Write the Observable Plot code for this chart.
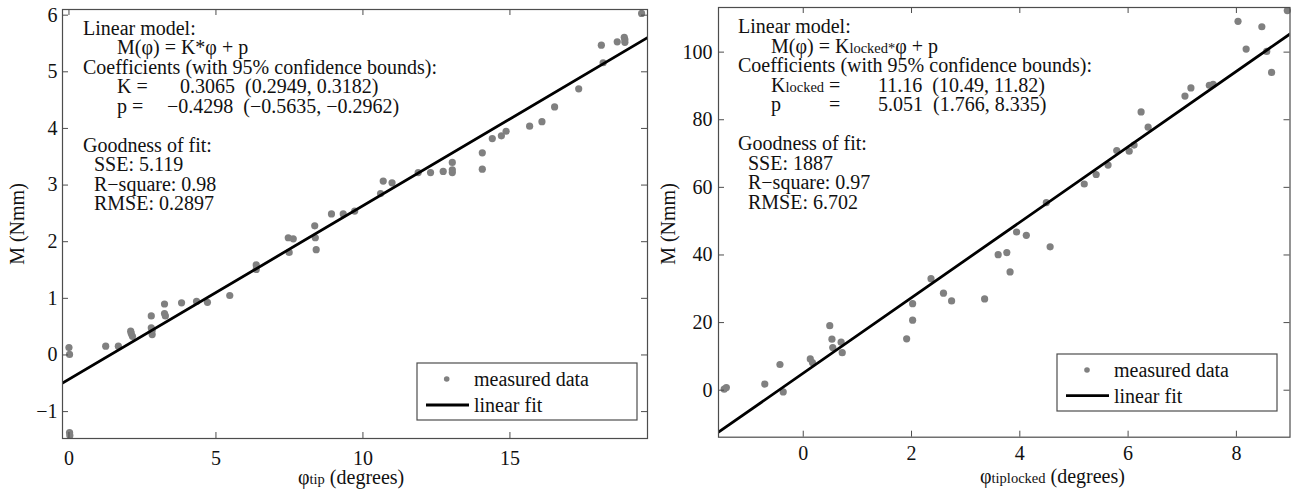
<!DOCTYPE html>
<html>
<head>
<meta charset="utf-8">
<script src="https://cdn.jsdelivr.net/npm/d3@7"></script>
<script src="https://cdn.jsdelivr.net/npm/@observablehq/plot@0.6"></script>
<style>
  body { margin: 0; background: #fff; }
  #wrap { display: flex; width: 1291px; height: 489px; overflow: hidden; }
  #wrap svg { display: block; flex: none; }
  #wrap svg text { font-family: "Liberation Serif", "Times New Roman", serif; }
</style>
</head>
<body>
<div id="wrap"></div>
<script>
// ---------- Left panel: φtip ----------
const tipPhi = [0, 0.02, 0.02, 0.03, 1.25, 1.68, 2.10, 2.12, 2.16, 2.80, 2.80, 2.83, 2.83,
  3.25, 3.25, 3.28, 3.83, 4.34, 4.71, 5.47, 6.37, 6.37, 7.46, 7.63, 7.49, 8.38, 8.41, 8.36,
  8.93, 9.33, 9.72, 10.60, 10.69, 10.99, 11.88, 12.30, 12.73, 13.04, 13.04, 13.04, 14.06,
  14.06, 14.40, 14.71, 14.87, 15.67, 16.09, 16.52, 17.34, 18.11, 18.17, 18.65, 18.89, 18.91,
  18.91, 19.48];
const tipM = [0.13, 0.01, -1.37, -1.42, 0.155, 0.155, 0.42, 0.38, 0.33, 0.69, 0.48, 0.43, 0.36,
  0.90, 0.73, 0.69, 0.92, 0.945, 0.93, 1.05, 1.59, 1.51, 2.07, 2.05, 1.81, 2.07, 1.86, 2.28,
  2.49, 2.49, 2.54, 2.85, 3.07, 3.04, 3.22, 3.22, 3.24, 3.40, 3.27, 3.22, 3.57,
  3.28, 3.82, 3.87, 3.95, 4.04, 4.12, 4.38, 4.70, 5.47, 5.16, 5.53, 5.61, 5.52,
  5.57, 6.03];
const tipK = 0.3065, tipP = -0.4298;
const tipXDomain = [-0.22, 19.68];
const tipYDomain = [-1.475, 6.1];
const tipXTicks = [0, 5, 10, 15];
const tipYTicks = [-1, 0, 1, 2, 3, 4, 5, 6];

// ---------- Right panel: φtiplocked ----------
const lockedPhi = [-1.46, -1.42, -0.71, -0.43, -0.37, 0.13, 0.17, 0.49, 0.53, 0.545, 0.70, 0.72,
  1.91, 2.02, 2.02, 2.36, 2.59, 2.74, 3.35, 3.60, 3.76, 3.82, 3.94, 4.12, 4.56, 4.49, 5.19,
  5.41, 5.63, 5.79, 6.02, 6.11, 6.24, 6.37, 7.05, 7.16, 7.50, 7.57, 8.03, 8.18, 8.47, 8.56,
  8.65, 8.94];
const lockedM = [0.3, 0.8, 1.8, 7.6, -0.5, 9.25, 8.2, 19.1, 15.1, 12.6, 14.2, 11.1,
  15.2, 20.7, 25.6, 33.0, 28.7, 26.4, 27.0, 40.1, 40.7, 35.0, 46.8, 45.8, 42.4, 55.5, 61.0,
  63.8, 66.6, 70.9, 70.7, 72.5, 82.3, 77.8, 87.0, 89.4, 90.2, 90.5, 109.1, 100.9, 107.5, 100.2,
  94.0, 112.3];
const lockedK = 11.16, lockedP = 5.051;
const lockedXDomain = [-1.565, 8.99];
const lockedYDomain = [-13.9, 113.2];
const lockedXTicks = [0, 2, 4, 6, 8];
const lockedYTicks = [0, 20, 40, 60, 80, 100];

const FS = 20;
const wrap = document.getElementById("wrap");

function panel(cfg) {
  const pts = cfg.phi.map((x, i) => ({x, y: cfg.M[i]}));
  const fit = cfg.xDomain.map(x => ({x, y: cfg.K * x + cfg.P}));
  const innerW = cfg.width - cfg.ml - cfg.mr;
  const innerH = cfg.height - cfg.mt - cfg.mb;
  const frameColor = "#4d4d4d";
  const chart = Plot.plot({
    width: cfg.width, height: cfg.height,
    marginLeft: cfg.ml, marginRight: cfg.mr, marginTop: cfg.mt, marginBottom: cfg.mb,
    style: {fontSize: FS + "px", fontFamily: '"Liberation Serif", serif', color: "#111", background: "#fff"},
    x: {domain: cfg.xDomain},
    y: {domain: cfg.yDomain},
    marks: [
      Plot.dot(pts, {x: "x", y: "y", r: 3.6, fill: "#808080", stroke: "none"}),
      Plot.line(fit, {x: "x", y: "y", stroke: "#000", strokeWidth: 2.8, clip: true}),
      Plot.ruleX(cfg.xTicks, {x: d => d, insetTop: innerH - 6, stroke: frameColor}),
      Plot.ruleX(cfg.xTicks, {x: d => d, insetBottom: innerH - 6, stroke: frameColor}),
      Plot.ruleY(cfg.yTicks, {y: d => d, insetRight: innerW - 6, stroke: frameColor}),
      Plot.ruleY(cfg.yTicks, {y: d => d, insetLeft: innerW - 6, stroke: frameColor}),
      Plot.frame({stroke: frameColor, strokeWidth: 1.2}),
      Plot.axisX(cfg.xTicks, {tickSize: 0, tickPadding: cfg.xPad, label: null, tickFormat: d => String(d).replace("-", "−"), fill: "#111"}),
      Plot.axisY(cfg.yTicks, {tickSize: 0, tickPadding: cfg.yPad, label: null, tickFormat: d => String(d).replace("-", "−"), fill: "#111"})
    ]
  });
  wrap.appendChild(chart);
  const svg = d3.select(chart);
  const g = svg.append("g").attr("fill", "#111").attr("text-anchor", "start")
    .style("font-size", FS + "px").style("white-space", "pre");
  return {svg, g};
}

function txt(g, x, y, parts, attrs = {}) {
  const t = g.append("text").attr("x", x).attr("y", y).attr("xml:space", "preserve").attr("text-anchor", "start");
  for (const [k, v] of Object.entries(attrs)) t.attr(k, v);
  for (const p of parts) {
    if (typeof p === "string") t.append("tspan").text(p);
    else t.append("tspan").style("font-size", p.size + "px").text(p.t);
  }
  return t;
}

function legend(g, x0, y0, w, h, dotX, dotY, lineX1, lineX2, lineY, textX) {
  g.append("rect").attr("x", x0).attr("y", y0).attr("width", w).attr("height", h)
    .attr("fill", "#fff").attr("stroke", "#4d4d4d").attr("stroke-width", 1.2);
  g.append("circle").attr("cx", dotX).attr("cy", dotY).attr("r", 2.8).attr("fill", "#808080");
  g.append("line").attr("x1", lineX1).attr("x2", lineX2).attr("y1", lineY).attr("y2", lineY)
    .attr("stroke", "#000").attr("stroke-width", 2.8);
  txt(g, textX, dotY + 7, ["measured data"]);
  txt(g, textX, lineY + 7, ["linear fit"]);
}

// ----- Left -----
{
  const {svg, g} = panel({phi: tipPhi, M: tipM, K: tipK, P: tipP, xDomain: tipXDomain, yDomain: tipYDomain,
    xTicks: tipXTicks, yTicks: tipYTicks, width: 655, height: 489, ml: 62, mr: 8, mt: 9, mb: 51, xPad: 12, yPad: 5});
  const L = 83, I = 117, S = 94, b = 34.5, s = 19.5;
  txt(g, L, b, ["Linear model:"]);
  txt(g, I, b + s, ["M(φ) = K*φ + p"]);
  txt(g, L, b + 2 * s, ["Coefficients (with 95% confidence bounds):"]);
  txt(g, I, b + 3 * s, ["K ="]);
  txt(g, 180, b + 3 * s, ["0.3065  (0.2949, 0.3182)"]);
  txt(g, I, b + 4 * s, ["p ="]);
  txt(g, 167, b + 4 * s, ["−0.4298  (−0.5635, −0.2962)"]);
  txt(g, L, b + 6 * s, ["Goodness of fit:"]);
  txt(g, S, b + 7 * s, ["SSE: 5.119"]);
  txt(g, S, b + 8 * s, ["R−square: 0.98"]);
  txt(g, S, b + 9 * s, ["RMSE: 0.2897"]);
  legend(g, 417, 363, 220, 57, 446.7, 379, 426, 469, 405, 474);
  txt(g, 298, 484, ["φ", {t: "tip", size: 14.5}, " (degrees)"]);
  txt(g, 0, 0, ["M (Nmm)"], {"text-anchor": "middle", transform: "translate(24,224) rotate(-90)"});
}

// ----- Right -----
{
  const {svg, g} = panel({phi: lockedPhi, M: lockedM, K: lockedK, P: lockedP, xDomain: lockedXDomain, yDomain: lockedYDomain,
    xTicks: lockedXTicks, yTicks: lockedYTicks, width: 636, height: 489, ml: 63, mr: 1.5, mt: 7, mb: 52.3, xPad: 9, yPad: 6});
  const L = 83, I = 116, S = 93, b = 33, s = 19.5;
  txt(g, L, b, ["Linear model:"]);
  txt(g, I, b + s, ["M(φ) = K", {t: "locked*", size: 14.5}, "φ + p"]);
  txt(g, L, b + 2 * s, ["Coefficients (with 95% confidence bounds):"]);
  const kLine = txt(g, I, b + 3 * s, ["K", {t: "locked", size: 14.5}, " ="]);
  const eqX = I + kLine.node().getComputedTextLength() - 0.564 * FS;
  txt(g, 223, b + 3 * s, ["11.16  (10.49, 11.82)"]);
  txt(g, I, b + 4 * s, ["p"]);
  txt(g, eqX, b + 4 * s, ["="]);
  txt(g, 223, b + 4 * s, ["5.051  (1.766, 8.335)"]);
  txt(g, L, b + 6 * s, ["Goodness of fit:"]);
  txt(g, S, b + 7 * s, ["SSE: 1887"]);
  txt(g, S, b + 8 * s, ["R−square: 0.97"]);
  txt(g, S, b + 9 * s, ["RMSE: 6.702"]);
  legend(g, 402, 354, 220, 57, 432, 370, 411, 454, 395.7, 459);
  txt(g, 325, 483, ["φ", {t: "tiplocked", size: 14.5}, " (degrees)"]);
  txt(g, 0, 0, ["M (Nmm)"], {"text-anchor": "middle", transform: "translate(20,224) rotate(-90)"});
}
</script>
</body>
</html>
